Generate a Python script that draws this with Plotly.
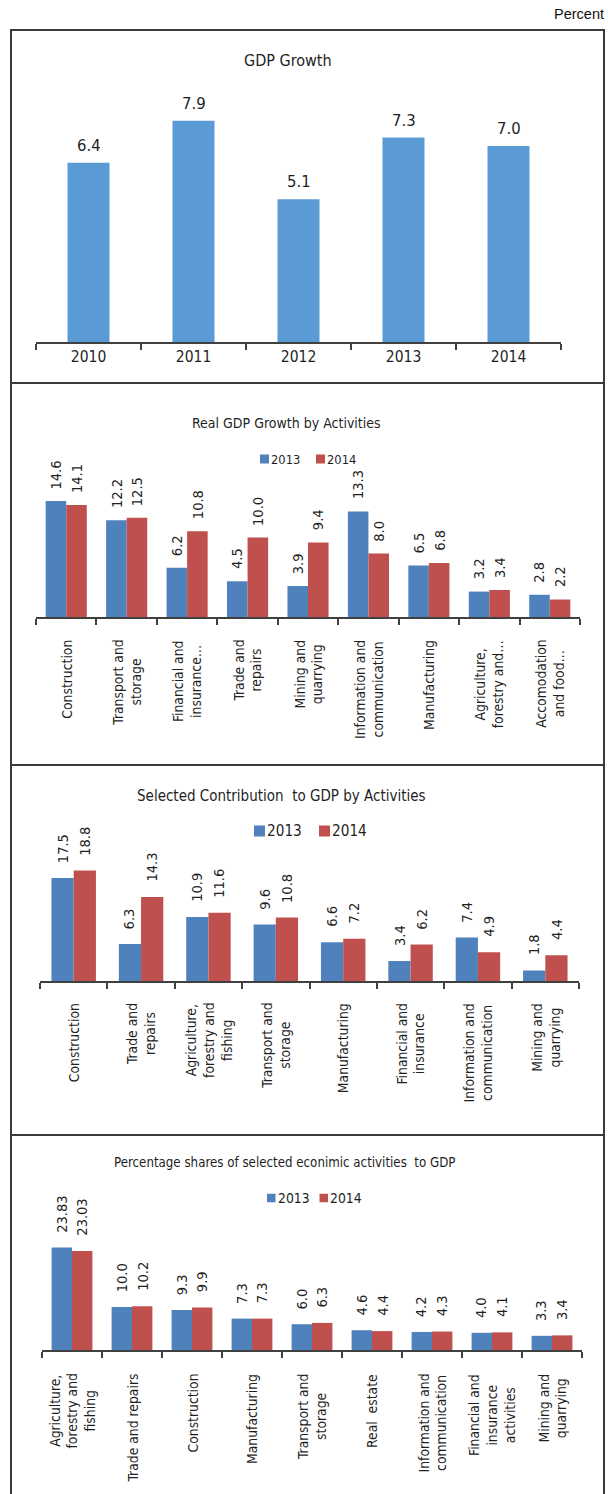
import plotly.graph_objects as go

# ---------------- data ----------------
years = ["2010", "2011", "2012", "2013", "2014"]
gdp_growth = [6.4, 7.9, 5.1, 7.3, 7.0]

series_names = ["2013", "2014"]

real_cats = ["Construction", "Transport and<br>storage", "Financial and<br>insurance…",
             "Trade and<br>repairs", "Mining and<br>quarrying", "Information and<br>communication",
             "Manufacturing", "Agriculture,<br>forestry and…", "Accomodation<br>and food…"]
real_2013 = [14.6, 12.2, 6.2, 4.5, 3.9, 13.3, 6.5, 3.2, 2.8]
real_2014 = [14.1, 12.5, 10.8, 10.0, 9.4, 8.0, 6.8, 3.4, 2.2]

contrib_cats = ["Construction", "Trade and<br>repairs", "Agriculture,<br>forestry and<br>fishing",
                "Transport and<br>storage", "Manufacturing", "Financial and<br>insurance",
                "Information and<br>communication", "Mining and<br>quarrying"]
contrib_2013 = [17.5, 6.3, 10.9, 9.6, 6.6, 3.4, 7.4, 1.8]
contrib_2014 = [18.8, 14.3, 11.6, 10.8, 7.2, 6.2, 4.9, 4.4]

share_cats = ["Agriculture,<br>forestry and<br>fishing", "Trade and repairs", "Construction",
              "Manufacturing", "Transport and<br>storage", "Real\u00a0 estate",
              "Information and<br>communication", "Financial and<br>insurance<br>activities",
              "Mining and<br>quarrying"]
share_2013 = [23.83, 10.0, 9.3, 7.3, 6.0, 4.6, 4.2, 4.0, 3.3]
share_2014 = [23.03, 10.2, 9.9, 7.3, 6.3, 4.4, 4.3, 4.1, 3.4]

titles = ["GDP Growth",
          "Real GDP Growth by Activities",
          "Selected Contribution\u00a0 to GDP by Activities",
          "Percentage shares of selected econimic activities\u00a0 to GDP"]

# ---------------- style ----------------
W, H = 608, 1494
NARROW = "DejaVu Sans Condensed, Liberation Sans Narrow, Arial Narrow, Liberation Sans, sans-serif"
REG = "Liberation Sans, Arial, sans-serif"
TXT = "#1f1f1f"
BLUE1 = "#5B9BD5"
BLUE = "#4F81BD"
RED = "#C0504D"
FRAME = "#3a3a3a"


def fx(x):
    return x / W


def fy(y):
    return 1 - y / H


def fmt(v):
    return f"{v:.2f}" if abs(round(v, 1) - v) > 1e-9 else f"{v:.1f}"


fig = go.Figure()
annotations = []
shapes = []

axis_common = dict(type="category", showline=True, linecolor="#404040", linewidth=1.5,
                   ticks="outside", tickson="boundaries", ticklen=6, tickwidth=1.5,
                   tickcolor="#404040", showgrid=False, zeroline=False, fixedrange=True,
                   tickangle=0, autorange=False)
yaxis_common = dict(visible=False, showgrid=False, zeroline=False, fixedrange=True,
                    autorange=False)

layout_axes = {}

# ---------------- panel 1 ----------------
fig.add_trace(go.Bar(x=years, y=gdp_growth, marker=dict(color=BLUE1, line=dict(width=0)),
                     width=0.4, xaxis="x", yaxis="y", showlegend=False, name="GDP growth"))
layout_axes["xaxis"] = dict(axis_common, domain=[fx(36), fx(561)], anchor="y",
                            range=[-0.5, len(years) - 0.5],
                            showticklabels=True,
                            tickfont=dict(family=NARROW, size=15.5, color=TXT))
layout_axes["yaxis"] = dict(yaxis_common, domain=[fy(342), fy(90)], range=[0, 9], anchor="x")
for i, v in enumerate(gdp_growth):
    annotations.append(dict(x=i, y=v, xref="x", yref="y", text=fmt(v), showarrow=False,
                            xanchor="center", yanchor="bottom", yshift=8,
                            borderpad=0, borderwidth=0,
                            font=dict(family=NARROW, size=16.5, color=TXT)))
annotations.append(dict(x=fx(288), y=fy(60), xref="paper", yref="paper", text=titles[0],
                        showarrow=False, xanchor="center", yanchor="middle",
                        borderpad=0, borderwidth=0,
                        font=dict(family=NARROW, size=16, color=TXT)))

# ---------------- grouped panels ----------------
panels = [
    dict(cats=real_cats, s=[real_2013, real_2014], xd=(36, 580), yd=(490, 617), yr=16,
         w=0.34, title=titles[1], tx=286, ty=423, tsize=14,
         leg=dict(x=[260, 316], y=459, sq=9, size=12.8), ltop=640, lsize=13.8, gap=12,
         dsize=14.5),
    dict(cats=contrib_cats, s=[contrib_2013, contrib_2014], xd=(40, 579), yd=(863.4, 981), yr=20,
         w=0.33, title=titles[2], tx=281, ty=796, tsize=15,
         leg=dict(x=[254, 319], y=831, sq=11, size=15.2), ltop=1003, lsize=13.8, gap=15,
         dsize=14.5),
    dict(cats=share_cats, s=[share_2013, share_2014], xd=(42, 582), yd=(1238.2, 1350), yr=26,
         w=0.34, title=titles[3], tx=284.5, ty=1162, tsize=13.2,
         leg=dict(x=[267, 319.5], y=1198, sq=8.5, size=13.8), ltop=1374, lsize=13.8, gap=15,
         dsize=14.5),
]

colors = [BLUE, RED]
for k, p in enumerate(panels, start=2):
    xa, ya = f"x{k}", f"y{k}"
    w = p["w"]
    for j, (vals, col) in enumerate(zip(p["s"], colors)):
        fig.add_trace(go.Bar(x=p["cats"], y=vals, name=series_names[j],
                             marker=dict(color=col, line=dict(width=0)),
                             width=w, offset=(-w if j == 0 else 0),
                             xaxis=xa, yaxis=ya, showlegend=False))
        for i, v in enumerate(vals):
            annotations.append(dict(x=i + (w / 2 if j else -w / 2), y=v, xref=xa, yref=ya,
                                    text=fmt(v), showarrow=False, textangle=-90,
                                    xanchor="center", yanchor="bottom", yshift=p["gap"],
                                    borderpad=0, borderwidth=0,
                                    font=dict(family=NARROW, size=p["dsize"], color=TXT)))
    layout_axes[f"xaxis{k}"] = dict(axis_common, domain=[fx(p["xd"][0]), fx(p["xd"][1])],
                                    range=[-0.5, len(p["cats"]) - 0.5],
                                    anchor=ya, showticklabels=False)
    layout_axes[f"yaxis{k}"] = dict(yaxis_common, domain=[fy(p["yd"][1]), fy(p["yd"][0])],
                                    range=[0, p["yr"]], anchor=xa)
    # category labels
    for i, c in enumerate(p["cats"]):
        annotations.append(dict(x=i, y=fy(p["ltop"]), xref=xa, yref="paper", text=c,
                                showarrow=False, textangle=-90, align="center",
                                xanchor="center", yanchor="top",
                                borderpad=0, borderwidth=0,
                                font=dict(family=NARROW, size=p["lsize"], color=TXT)))
    # title
    annotations.append(dict(x=fx(p["tx"]), y=fy(p["ty"]), xref="paper", yref="paper",
                            text=p["title"], showarrow=False, xanchor="center", yanchor="middle",
                            borderpad=0, borderwidth=0,
                            font=dict(family=NARROW, size=p["tsize"], color=TXT)))
    # legend (swatch + label)
    lg = p["leg"]
    for j, col in enumerate(colors):
        x0 = lg["x"][j]
        shapes.append(dict(type="rect", xref="paper", yref="paper",
                           x0=fx(x0), x1=fx(x0 + lg["sq"]),
                           y0=fy(lg["y"] + lg["sq"] / 2), y1=fy(lg["y"] - lg["sq"] / 2),
                           fillcolor=col, line=dict(width=0)))
        annotations.append(dict(x=fx(x0 + lg["sq"] + 2), y=fy(lg["y"]), xref="paper",
                                yref="paper", text=series_names[j], showarrow=False,
                                xanchor="left", yanchor="middle",
                                borderpad=0, borderwidth=0,
                                font=dict(family=NARROW, size=lg["size"], color=TXT)))

# "Percent" unit note
annotations.append(dict(x=fx(604), y=fy(14), xref="paper", yref="paper", text="Percent",
                        showarrow=False, xanchor="right", yanchor="middle",
                        borderpad=0, borderwidth=0,
                        font=dict(family=REG, size=14.5, color="#111111")))

# frame and panel separators
shapes.append(dict(type="rect", xref="paper", yref="paper", x0=fx(11), x1=fx(604),
                   y0=fy(H + 20), y1=fy(30), line=dict(color=FRAME, width=2),
                   fillcolor="rgba(0,0,0,0)", layer="below"))
for yline in [383, 765, 1135]:
    shapes.append(dict(type="line", xref="paper", yref="paper", x0=fx(11), x1=fx(604),
                       y0=fy(yline), y1=fy(yline), line=dict(color=FRAME, width=2)))

fig.update_layout(
    width=W, height=H,
    margin=dict(l=0, r=0, t=0, b=0),
    paper_bgcolor="white", plot_bgcolor="rgba(0,0,0,0)",
    barmode="overlay",
    showlegend=False,
    annotations=annotations,
    shapes=shapes,
    **layout_axes,
)

fig.write_html("out.html", config={"displayModeBar": False},
               post_script="document.body.style.margin='0';document.body.style.overflow='hidden';")
